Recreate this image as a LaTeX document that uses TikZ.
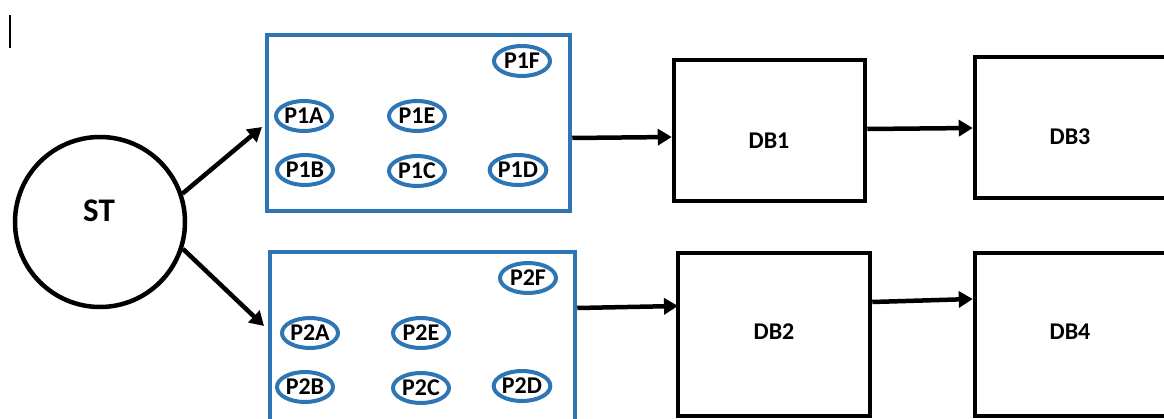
\documentclass[tikz,border=0pt]{standalone}
\usepackage{fontspec}
\setmainfont{Carlito}
\usetikzlibrary{arrows.meta,shapes.geometric}
\definecolor{obl}{RGB}{46,117,182}
\tikzset{
  bluebox/.style={draw=obl, line width=4.5pt, rectangle, inner sep=0pt},
  blackbox/.style={draw=black, line width=4.5pt, rectangle, inner sep=0pt},
  pnode/.style={draw=obl, line width=4pt, ellipse, minimum width=56pt, minimum height=30pt, inner sep=0pt, font=\fontsize{24}{26}\selectfont\bfseries},
  dblabel/.style={inner sep=0pt, font=\fontsize{24}{26}\selectfont\bfseries},
  arr/.style={line width=4.5pt, -{Triangle[length=14pt,width=16pt]}},
}
\begin{document}
\begin{tikzpicture}[x=1pt,y=-1pt]
\useasboundingbox (0,0) rectangle (1164,419);
\clip (0,0) rectangle (1164,419);
% cursor mark
\coordinate (c1) at (10,15);
\coordinate (c2) at (10,48);
\draw[line width=1.5pt] (c1) -- (c2);
% start circle
\node[circle, draw, line width=4.5pt, minimum size=170pt, inner sep=0pt] (ST) at (100,222) {};
\node[inner sep=0pt, font=\fontsize{33}{35}\selectfont\bfseries] (STl) at (99,211) {ST};
% process boxes
\node[bluebox, minimum width=303pt, minimum height=176pt] (box1) at (418.5,123) {};
\node[bluebox, minimum width=305pt, minimum height=198pt] (box2) at (422.5,351) {};
% ellipses group 1
\node[pnode] (P1F) at (522,61) {P1F};
\node[pnode] (P1A) at (304,116) {P1A};
\node[pnode] (P1E) at (417,116) {P1E};
\node[pnode] (P1B) at (305,170) {P1B};
\node[pnode] (P1C) at (417,171) {P1C};
\node[pnode] (P1D) at (518,170) {P1D};
% ellipses group 2
\node[pnode] (P2F) at (528,278) {P2F};
\node[pnode] (P2A) at (310,333) {P2A};
\node[pnode] (P2E) at (421,333) {P2E};
\node[pnode] (P2B) at (305,387) {P2B};
\node[pnode] (P2C) at (421,388) {P2C};
\node[pnode] (P2D) at (522,386) {P2D};
% database boxes
\node[blackbox, minimum width=191pt, minimum height=141pt] (DB1) at (769.5,130.5) {};
\node[blackbox, minimum width=225pt, minimum height=141pt] (DB3) at (1087.5,127.5) {};
\node[blackbox, minimum width=192pt, minimum height=163pt] (DB2) at (774,334.5) {};
\node[blackbox, minimum width=225pt, minimum height=163pt] (DB4) at (1087.5,334.5) {};
\node[dblabel] (DB1l) at (769,141) {DB1};
\node[dblabel] (DB3l) at (1070,137) {DB3};
\node[dblabel] (DB2l) at (774,332) {DB2};
\node[dblabel] (DB4l) at (1070,332) {DB4};
% arrows
\coordinate (t1) at (262,127);
\coordinate (t2) at (264,326);
\draw[arr] (ST.19) -- (t1);
\draw[arr] (ST.-18) -- (t2);
\draw[arr] (box1.east |- 0,138) -- (DB1.west |- 0,137);
\draw[arr] (DB1.east |- 0,129) -- (DB3.west |- 0,128);
\draw[arr] (box2.east |- 0,308) -- (678,306);
\draw[arr] (DB2.east |- 0,302) -- (DB4.west |- 0,299);
\end{tikzpicture}
\end{document}
